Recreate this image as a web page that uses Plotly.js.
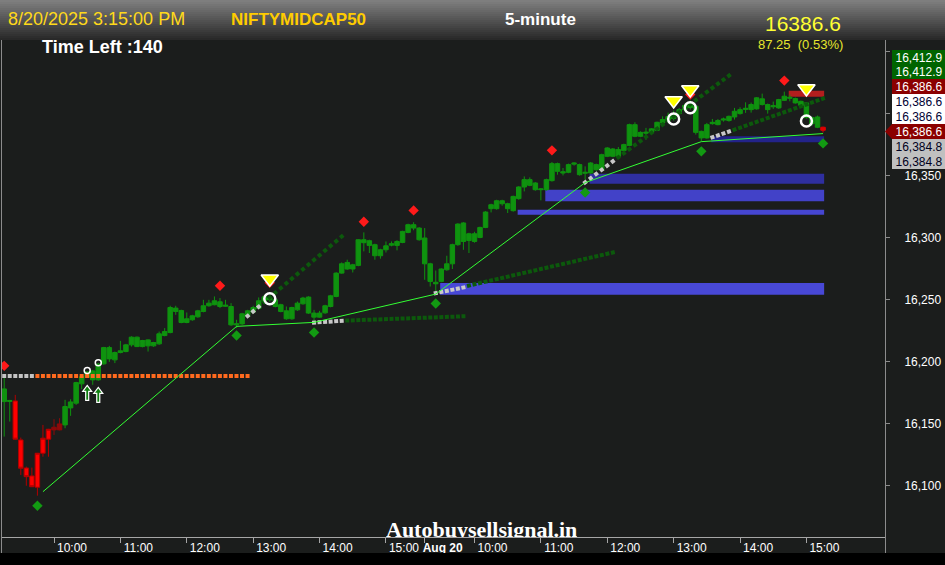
<!DOCTYPE html>
<html><head><meta charset="utf-8">
<script src="https://cdn.plot.ly/plotly-3.0.1.min.js"></script>
<style>html,body{margin:0;padding:0;background:#000;overflow:hidden}#chart{width:945px;height:565px}</style>
</head><body><div id="chart"></div>
<script>
// ---------------- DATA ----------------
// 5-minute bars, index 0 = 19 Aug 09:15 ... 75 = 19 Aug 15:30, 76 = 20 Aug 09:15 ... 148 = 20 Aug 15:15
const openP = [16178.2,16168.1,16168.5,16137.1,16114.5,16108.1,16099.0,16126.4,16137.7,16147.3,
16145.2,16149.2,16162.9,16166.7,16182.3,16187.5,16192.7,16185.5,16198.4,16211.5,
16201.6,16207.5,16208.3,16213.7,16219.9,16212.3,16217.7,16212.9,16214.5,16221.2,
16223.6,16243.3,16241.4,16231.7,16233.9,16236.3,16240.6,16245.2,16246.0,16248.4,
16244.8,16244.6,16229.8,16230.6,16237.1,16240.1,16243.0,16248.4,16251.6,16250.0,
16246.0,16241.1,16234.7,16241.9,16246.8,16252.2,16239.3,16236.0,16239.5,16244.6,
16252.7,16271.5,16280.1,16274.8,16277.7,16298.4,16297.6,16294.4,16285.5,16290.3,
16294.0,16293.8,16296.2,16304.3,16307.8,16307.8,16299.8,16279.0,16264.1,16264.8,
16274.2,16279.0,16294.4,16311.9,16297.8,16297.0,16300.2,16308.3,16323.4,16323.4,
16329.8,16327.4,16321.8,16331.5,16340.9,16346.8,16344.1,16338.7,16338.7,16346.0,
16359.7,16353.2,16352.7,16359.3,16358.9,16351.9,16352.2,16358.9,16354.8,16365.6,
16371.5,16365.6,16370.2,16374.4,16391.1,16381.7,16385.1,16384.9,16386.5,16392.5,
16394.4,16396.0,16400.0,16403.2,16404.8,16405.9,16385.7,16380.4,16391.9,16394.4,
16394.8,16394.4,16397.3,16400.0,16403.4,16403.2,16403.8,16411.9,16407.3,16405.5,
16404.6,16410.7,16412.3,16412.1,16409.9,16408.6,16396.8,16397.3,16389.0];
const highP = [16188.1,16169.4,16173.4,16139.0,16115.6,16114.8,16126.6,16149.2,16146.0,16153.8,
16154.6,16169.4,16169.9,16183.9,16189.5,16192.3,16193.5,16199.2,16212.1,16212.9,
16208.3,16216.9,16214.5,16220.6,16220.4,16217.7,16218.1,16216.1,16224.4,16227.2,
16245.2,16245.2,16242.0,16239.8,16237.9,16241.9,16250.0,16250.0,16252.7,16251.4,
16250.0,16247.3,16233.9,16239.5,16241.9,16245.2,16251.9,16254.0,16254.0,16250.8,
16246.8,16244.6,16244.4,16248.6,16252.4,16252.8,16241.9,16241.1,16246.0,16254.0,
16272.2,16280.1,16282.3,16279.0,16298.8,16304.3,16298.4,16295.2,16291.1,16297.0,
16297.0,16298.0,16305.6,16311.3,16312.5,16308.5,16307.8,16279.8,16273.6,16275.4,
16285.5,16295.2,16311.7,16312.5,16304.0,16304.8,16308.9,16321.4,16327.4,16330.6,
16330.6,16328.2,16333.9,16341.5,16349.4,16348.6,16344.8,16339.9,16347.6,16361.0,
16360.5,16356.2,16359.7,16360.7,16359.7,16357.5,16360.9,16359.7,16367.7,16373.0,
16372.2,16373.1,16375.8,16391.9,16393.0,16385.7,16388.5,16388.3,16393.5,16397.8,
16400.8,16402.4,16404.6,16408.1,16410.5,16406.9,16386.3,16392.5,16395.7,16395.6,
16396.8,16398.4,16404.6,16405.1,16409.1,16408.9,16413.3,16416.1,16408.1,16409.7,
16411.9,16417.7,16415.3,16412.9,16410.5,16409.3,16397.6,16398.4,16389.5];
const lowP = [16139.8,16151.9,16137.1,16108.9,16100.2,16099.2,16092.2,16123.6,16123.6,16141.1,
16144.8,16146.5,16156.5,16165.3,16178.0,16187.1,16181.5,16184.7,16197.6,16200.0,
16199.0,16206.9,16207.7,16212.3,16211.9,16211.7,16208.3,16212.1,16213.7,16220.6,
16223.0,16237.9,16231.1,16231.1,16233.1,16235.5,16239.9,16244.4,16245.6,16243.3,
16244.4,16229.0,16227.2,16229.8,16236.3,16238.7,16242.3,16247.6,16248.4,16243.9,
16239.9,16233.9,16233.9,16241.1,16246.0,16238.7,16232.5,16235.5,16238.7,16243.9,
16252.0,16271.0,16274.2,16272.0,16277.0,16289.0,16287.7,16282.3,16283.1,16288.1,
16293.1,16289.8,16295.6,16303.6,16306.0,16297.6,16266.1,16260.7,16255.4,16264.1,
16273.4,16274.8,16293.5,16290.3,16287.7,16296.0,16299.6,16307.7,16320.4,16322.6,
16325.8,16319.9,16321.0,16330.6,16337.3,16341.5,16337.9,16330.1,16337.9,16345.2,
16350.8,16350.2,16352.0,16358.1,16350.0,16346.8,16351.6,16354.0,16354.0,16364.9,
16364.9,16364.9,16369.4,16373.8,16381.0,16381.0,16379.0,16384.3,16385.9,16391.9,
16393.5,16394.4,16399.2,16401.6,16403.2,16383.1,16377.7,16379.8,16391.1,16390.6,
16393.5,16393.5,16395.2,16399.2,16400.6,16400.8,16403.2,16406.5,16400.0,16403.8,
16403.8,16410.1,16409.9,16408.1,16405.6,16396.0,16390.3,16388.3,16384.8];
const closeP = [16168.0,16168.9,16137.7,16114.3,16107.5,16099.4,16126.4,16138.5,16145.7,16145.2,
16150.0,16164.0,16167.7,16183.3,16188.1,16191.9,16185.5,16198.1,16211.5,16202.4,
16207.5,16208.9,16213.7,16219.9,16212.3,16217.2,16212.9,16215.6,16222.6,16224.4,
16243.8,16240.6,16231.7,16234.7,16237.1,16241.1,16245.2,16247.3,16249.2,16244.6,
16245.6,16229.8,16230.6,16238.7,16241.1,16243.8,16249.2,16252.4,16250.0,16244.6,
16240.6,16234.7,16243.8,16247.3,16251.4,16239.3,16236.0,16239.3,16245.2,16253.2,
16271.5,16279.0,16274.8,16278.2,16298.4,16296.0,16293.8,16285.5,16290.3,16293.5,
16295.2,16297.0,16305.1,16310.5,16310.5,16298.4,16279.0,16264.8,16262.9,16274.8,
16279.0,16294.4,16311.0,16297.0,16303.2,16303.2,16308.3,16320.7,16326.6,16329.8,
16327.4,16323.4,16333.3,16340.9,16346.8,16342.2,16338.7,16339.3,16346.8,16359.7,
16353.5,16352.2,16358.9,16360.1,16350.8,16352.7,16360.2,16354.8,16366.9,16372.3,
16365.6,16371.0,16375.0,16391.1,16381.7,16384.9,16384.3,16387.7,16393.0,16395.2,
16397.6,16399.2,16403.2,16406.5,16408.1,16384.9,16380.4,16391.1,16393.0,16391.1,
16395.6,16397.8,16401.9,16403.2,16404.2,16407.3,16412.7,16407.3,16403.2,16406.3,
16411.3,16414.0,16413.1,16408.6,16406.5,16396.8,16391.9,16389.0,16386.6];

// trend colouring of bars (all others green)
const redBars = [2,3,4,5,6,7,8];
const darkRedBars = [9,10];
const lastBars = [148];

// time axis labels (bar index -> label)
const tickIdx  = [9,21,33,45,57,69,76,85,97,109,121,133,145];
const tickText = ['10:00','11:00','12:00','13:00','14:00','15:00','Aug 20','10:00','11:00','12:00','13:00','14:00','15:00'];

// price axis ticks (upper two are covered by the price labels)
const priceTicks = [16100,16150,16200,16250,16300,16350,16400,16450];
const priceTickShown = [true,true,true,true,true,true,false,false];

// swing-low trend line
const trendIdx   = [7, 42, 56, 78, 105, 126, 148];
const trendPrice = [16095.4, 16228.6, 16231.8, 16254.6, 16344.4, 16377.4, 16383.9];

// pivot markers
const swingHighIdx   = [0, 39, 48, 65, 74, 99, 124, 141];
const swingHighPrice = [16196.8, 16261.3, 16263.7, 16312.9, 16322.0, 16370.4, 16415.3, 16426.6];
const swingLowIdx    = [6, 42, 56, 78, 105, 126, 148];
const swingLowPrice  = [16084.1, 16221.2, 16223.6, 16247.0, 16336.5, 16369.6, 16376.0];
const sellIdx        = [48, 121, 124, 145];
const sellTriPrice   = [16266.9, 16410.5, 16419.4, 16420.2];
const sellRingPrice  = [16250.8, 16395.6, 16404.8, 16394.1];
const buyIdx         = [15, 17];
const buyRingPrice   = [16193.0, 16199.2];
const buyArrowPrice  = [16175.0, 16173.4];

// horizontal level (orange) : gray part then orange part
const levelPrice = 16188.7;
const levelGray  = [0, 5];
const levelOrange= [6, 44];

// projection lines: [grayFrom, grayTo, greenFrom, greenTo]
const projBars = [[44,46,47,61],[56,61,62,83],[78,83,84,110],[105,110,111,131],[128,131,132,148]];
const projGrayPrice  = [[16236.9,16244.4],[16231.7,16233.0],[16255.4,16259.9],[16344.6,16361.5],[16380.9,16385.5]];
const projGreenPrice = [[16248.2,16301.0],[16233.3,16236.7],[16261.5,16288.1],[16364.8,16430.6],[16387.1,16412.1]];

// zones
const zoneStart = [79, 93, 98, 106, 128, 142];
const zoneHigh  = [16263.5, 16322.6, 16338.7, 16351.6, 16381.7, 16418.5];
const zoneLow   = [16254.0, 16318.5, 16329.3, 16343.5, 16376.9, 16413.5];

// right-hand price labels
const sideValues = [16412.9, 16412.9, 16386.6, 16386.6, 16386.6, 16386.6, 16384.8, 16384.8];
const sideKinds  = ['hi','hi','last','ref','ref','close','lo','lo'];

// header
const headerDate = '8/20/2025 3:15:00 PM';
const symbolName = 'NIFTYMIDCAP50';
const intervalName = '5-minute';
const lastPrice = 16386.6, change = 87.25, changePct = 0.53, timeLeft = 140;
const watermark = 'Autobuysellsignal.in';

// ---------------- LAYOUT GEOMETRY / STYLES ----------------
const W=945,H=565,ML=2,MR=60,MT=40,MB=28;
const plotW=W-ML-MR, plotH=H-MT-MB;
const xRange=[-0.4,159.2], yRange=[16058.9,16459.3];
const pxPerBar = plotW/(xRange[1]-xRange[0]);
const pxPerPt  = plotH/(yRange[1]-yRange[0]);
const pX = x => (x-ML)/plotW;
const pY = y => (H-MB-y)/plotH;
const BG='#1b1d1c';
const GREEN='#0f930f';
const nBars = closeP.length;
const allIdx = [...Array(nBars).keys()];
const greenBars = allIdx.filter(i=>!redBars.includes(i)&&!darkRedBars.includes(i)&&!lastBars.includes(i));

function candles(idx, fill, line){
  return {type:'candlestick', x:idx, open:idx.map(i=>openP[i]), high:idx.map(i=>highP[i]),
    low:idx.map(i=>lowP[i]), close:idx.map(i=>closeP[i]),
    increasing:{fillcolor:fill,line:{color:line,width:1}},
    decreasing:{fillcolor:fill,line:{color:line,width:1}},
    whiskerwidth:0, hoverinfo:'none', showlegend:false};
}
function dotted(a,b,pa,pb,color){
  const slope = b===a?0:(pb-pa)/(b-a);
  const period = Math.sqrt(pxPerBar*pxPerBar + Math.pow(slope*pxPerPt,2));
  const ext = 2/period;
  return {type:'scatter', mode:'lines', x:[a-ext,b+ext], y:[pa-slope*ext,pb+slope*ext],
    line:{color:color,width:4,dash:'4px,'+(period-4).toFixed(2)+'px'}, hoverinfo:'none', showlegend:false};
}

const traces = [];
traces.push(dotted(levelGray[0],levelGray[1],levelPrice,levelPrice,'#c4c4c4'));
traces.push(dotted(levelOrange[0],levelOrange[1],levelPrice,levelPrice,'#ff6a1e'));
projBars.forEach((p,k)=>{
  traces.push(dotted(p[2],p[3],projGreenPrice[k][0],projGreenPrice[k][1],'#0c590c'));
  traces.push(dotted(p[0],p[1],projGrayPrice[k][0],projGrayPrice[k][1],'#c8c8c8'));
});
traces.push(candles(greenBars, GREEN, GREEN));
traces.push(candles(redBars, '#ff0000', '#b00000'));
traces.push(candles(darkRedBars, '#8e0a0a', '#8e0a0a'));
traces.push(candles(lastBars, '#e00000', '#e00000'));
traces.push({type:'scatter',mode:'lines',x:trendIdx,y:trendPrice,line:{color:'#33ff33',width:1},hoverinfo:'none'});
traces.push({type:'scatter',mode:'markers',x:swingHighIdx,y:swingHighPrice,marker:{symbol:'diamond',size:8,color:'#ff1a1a'},hoverinfo:'none'});
traces.push({type:'scatter',mode:'markers',x:swingLowIdx,y:swingLowPrice,marker:{symbol:'diamond',size:8,color:'#129a12'},hoverinfo:'none'});
traces.push({type:'scatter',mode:'markers',x:sellIdx,y:sellRingPrice,marker:{symbol:'circle-open',size:11,color:'#ffffff',line:{width:2.5}},hoverinfo:'none'});
traces.push({type:'scatter',mode:'markers',x:sellIdx,y:sellTriPrice,marker:{symbol:'triangle-down',size:15,color:'#ffff00',line:{color:'#ffffff',width:1.5}},hoverinfo:'none'});
traces.push({type:'scatter',mode:'markers',x:buyIdx,y:buyRingPrice,marker:{symbol:'circle-open',size:6,color:'#ffffff',line:{width:1.5}},hoverinfo:'none'});
traces.forEach(t=>t.showlegend=false);

// shapes
const shapes = [];
const zoneColors = ['#4848d6','#4646d2','#4242c8','#2f2fa0','#23238a','#b41e1e'];
zoneStart.forEach((s,k)=>shapes.push({type:'rect',xref:'x',yref:'y',x0:s-0.2,x1:nBars-1+0.2,y0:zoneLow[k],y1:zoneHigh[k],
  fillcolor:zoneColors[k],line:{width:0},layer:'below'}));
// buy arrows (block arrows, pixel geometry converted to data units around each data point)
const arrowPx = [[0,-7.5],[4.5,-1.5],[1.5,-1.5],[1.5,7.5],[-1.5,7.5],[-1.5,-1.5],[-4.5,-1.5]];
buyIdx.forEach((bi,k)=>{
  const pts = arrowPx.map(([dx,dy])=>[bi+dx/pxPerBar, buyArrowPrice[k]-dy/pxPerPt]);
  shapes.push({type:'path',xref:'x',yref:'y',layer:'above',fillcolor:'#0f7f0f',line:{color:'#ffffff',width:1.2},
    path:'M '+pts.map(p=>p[0].toFixed(4)+','+p[1].toFixed(3)).join(' L ')+' Z'});
});
// header gradient
for(let k=0;k<20;k++){
  const g = Math.round(126 - k*4.5);
  shapes.push({type:'rect',xref:'paper',yref:'paper',x0:pX(0),x1:pX(W),y0:pY(2*k),y1:pY(2*k+2.05),
    fillcolor:`rgb(${g},${g},${g})`,line:{width:0},layer:'above'});
}
shapes.push({type:'rect',xref:'paper',yref:'paper',x0:pX(0),x1:pX(W),y0:pY(H),y1:pY(553),fillcolor:'#000',line:{width:0},layer:'above'});
shapes.push({type:'line',xref:'paper',yref:'paper',x0:pX(1.5),x1:pX(1.5),y0:pY(40),y1:pY(553),line:{color:'#8c8c8c',width:1},layer:'above'});
shapes.push({type:'line',xref:'paper',yref:'paper',x0:pX(885.5),x1:pX(885.5),y0:pY(537),y1:pY(553),line:{color:'#8c8c8c',width:1},layer:'above'});

// annotations
const annotations = [];
const fmt = v => v.toLocaleString('en-US',{minimumFractionDigits:1,maximumFractionDigits:1});
const sideStyle = {hi:['#006400','#ffffff'], last:['#8b0000','#ffffff'], ref:['#ffffff','#000033'], close:['#8b0000','#ffffff'], lo:['#c0c0c0','#000020']};
sideValues.forEach((v,k)=>{
  const yc = 57 + 14.9*k;
  annotations.push({xref:'paper',yref:'paper',x:pX(891.5),y:pY(yc),xanchor:'left',yanchor:'middle',showarrow:false,
    text:fmt(v),font:{family:'Liberation Sans, Arial',size:12,color:sideStyle[sideKinds[k]][1]},
    bgcolor:sideStyle[sideKinds[k]][0],width:52,height:13,borderpad:1,borderwidth:0,align:'center'});
  if(sideKinds[k]==='close'){
    shapes.push({type:'path',xref:'paper',yref:'paper',layer:'above',fillcolor:'#8b0000',line:{width:0},
      path:`M ${pX(885)},${pY(yc)} L ${pX(892)},${pY(yc-7.5)} L ${pX(892)},${pY(yc+7.5)} Z`});
  }
});
const hdr = (text,x,y,anchor,size,color,bold,family,extra)=>annotations.push(Object.assign({xref:'paper',yref:'paper',x:pX(x),y:pY(y),
  xanchor:anchor,yanchor:'middle',showarrow:false,text:bold?'<b>'+text+'</b>':text,
  font:{family:family||'Liberation Sans, Arial',size:size,color:color}},extra||{}));
hdr(headerDate, 6, 19, 'left', 18, '#ffd91a', false);
hdr(symbolName, 229, 19, 'left', 17, '#ffcc00', true);
hdr(intervalName, 540, 20, 'center', 17, '#ffffff', true);
hdr(lastPrice.toFixed(1), 843, 23, 'right', 21, '#ffff33', false);
hdr('Time Left :'+timeLeft, 40, 47, 'left', 18, '#ffffff', true);
hdr(change.toFixed(2)+'  ('+changePct.toFixed(2)+'%)', 845, 45, 'right', 13, '#e6e62e', false);
hdr(watermark, 481, 527, 'center', 22, '#ffffff', true, 'Liberation Serif, Times New Roman, serif', {borderpad:0,borderwidth:0,height:20,valign:'top'});

const layout = {
  width:W,height:H,margin:{l:ML,r:MR,t:MT,b:MB,pad:0},
  paper_bgcolor:BG,plot_bgcolor:BG,showlegend:false,
  boxgap:0.1,boxgroupgap:0.1,hovermode:false,
  xaxis:{range:xRange,rangeslider:{visible:false},showgrid:false,zeroline:false,showline:true,
    linecolor:'#a6a6a6',linewidth:1,ticks:'outside',ticklen:5,tickcolor:'#a6a6a6',
    tickmode:'array',tickvals:tickIdx,ticktext:tickText.map(t=>t.startsWith('Aug')?'<b>'+t+'</b>':t),
    tickfont:{family:'Liberation Sans, Arial',size:12,color:'#ffffff'},ticklabelshift:18,ticklabelstandoff:-5,fixedrange:true},
  yaxis:{range:yRange,side:'right',showgrid:false,zeroline:false,showline:true,linecolor:'#8c8c8c',
    ticks:'outside',ticklen:4,tickcolor:'#8c8c8c',tickmode:'array',tickvals:priceTicks,
    ticktext:priceTicks.map((v,k)=>priceTickShown[k]?v.toLocaleString('en-US'):''),
    tickfont:{family:'Liberation Sans, Arial',size:12,color:'#ffffff'},ticklabelstandoff:12,fixedrange:true},
  shapes:shapes,annotations:annotations
};
Plotly.newPlot('chart',traces,layout,{displayModeBar:false,staticPlot:true});
</script></body></html>
